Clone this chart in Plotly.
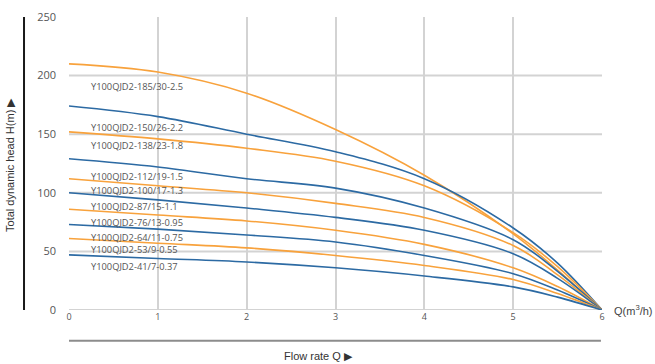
import plotly.graph_objects as go

# ---- data ----
flow = [0, 1, 2, 3, 4, 5, 5.5, 6]
models = [
    "Y100QJD2-185/30-2.5", "Y100QJD2-150/26-2.2", "Y100QJD2-138/23-1.8",
    "Y100QJD2-112/19-1.5", "Y100QJD2-100/17-1.3", "Y100QJD2-87/15-1.1",
    "Y100QJD2-76/13-0.95", "Y100QJD2-64/11-0.75", "Y100QJD2-53/9-0.55",
    "Y100QJD2-41/7-0.37",
]
h_185 = [210, 203, 185, 154, 115, 65, 34, 0]
h_150 = [174, 165, 150, 135, 112, 70, 40, 0]
h_138 = [152, 146, 138, 127, 106, 66, 37, 0]
h_112 = [129, 122, 112, 104, 87, 60, 33, 0]
h_100 = [112, 106, 100, 91, 79, 55, 30, 0]
h_87 = [100, 94, 87, 79, 68, 48, 27, 0]
h_76 = [86, 81, 76, 68, 56, 36, 20, 0]
h_64 = [73, 69, 64, 58, 46.5, 31, 17, 0]
h_53 = [61, 57, 53, 46.5, 38, 26, 14, 0]
h_41 = [47, 44, 41, 36, 29, 19.7, 11, 0]
heads = [h_185, h_150, h_138, h_112, h_100, h_87, h_76, h_64, h_53, h_41]

x_ticks = [0, 1, 2, 3, 4, 5, 6]
y_ticks = [0, 50, 100, 150, 200, 250]
y_grid = [0, 50, 100, 150, 200]

# ---- styling / layout ----
ORANGE = "#F8A23C"
BLUE = "#2C6AA3"
colors = [ORANGE if i % 2 == 0 else BLUE for i in range(len(models))]
label_y = [191, 156, 140.5, 113.5, 102, 88.5, 75, 61.5, 51.2, 37]
label_x = 0.225

fig = go.Figure()
for name, h, c in zip(models, heads, colors):
    fig.add_trace(go.Scatter(
        x=flow, y=h, mode="lines", name=name,
        line=dict(color=c, width=1.6, shape="spline", smoothing=1.0),
        showlegend=False, hoverinfo="x+y+name",
    ))

grid_col = "#D3D3D3"
shapes = []
for gy in y_grid:
    shapes.append(dict(type="line", xref="paper", yref="y", x0=0, x1=1, y0=gy, y1=gy,
                       line=dict(color=grid_col, width=2), layer="below"))
# left black axis bar and bottom gray bar
shapes.append(dict(type="line", xref="paper", yref="paper", x0=-0.0844, x1=-0.0844,
                   y0=0, y1=1.0, line=dict(color="#1a1a1a", width=2)))
shapes.append(dict(type="line", xref="paper", yref="paper", x0=0, x1=0.998,
                   y0=-0.105, y1=-0.105, line=dict(color="#8C8C8C", width=2)))

annotations = []
for name, ly in zip(models, label_y):
    annotations.append(dict(x=label_x, y=ly, xref="x", yref="y", text=name,
                            showarrow=False, xanchor="left", yanchor="middle",
                            font=dict(family="Open Sans", size=9.3, color="#555555")))
annotations.append(dict(x=-0.1107, y=0.495, xref="paper", yref="paper",
                        text="Total dynamic head H(m) ▶", textangle=-90,
                        showarrow=False, xanchor="center", yanchor="middle",
                        font=dict(family="Liberation Sans", size=11, color="#333333")))
annotations.append(dict(x=0.469, y=-0.156, xref="paper", yref="paper",
                        text="Flow rate Q ▶", showarrow=False,
                        xanchor="center", yanchor="middle",
                        font=dict(family="Liberation Sans", size=11, color="#333333")))
annotations.append(dict(x=1.018, y=0.0, xref="paper", yref="paper",
                        text="Q(m<sup>3</sup>/h)", showarrow=False,
                        xanchor="left", yanchor="middle",
                        font=dict(family="Liberation Sans", size=11, color="#444444")))

fig.update_layout(
    width=655, height=364,
    margin=dict(l=69, r=53, t=9, b=54),
    paper_bgcolor="white", plot_bgcolor="white",
    shapes=shapes, annotations=annotations,
    xaxis=dict(range=[0, 6], tickvals=x_ticks, showgrid=True, gridcolor=grid_col,
               gridwidth=2, zeroline=False, showline=False, ticks="",
               tickfont=dict(family="Open Sans", size=9, color="#555555")),
    yaxis=dict(range=[0, 250], tickvals=y_ticks, showgrid=False, zeroline=False,
               showline=False, ticks="", ticklabelstandoff=12,
               tickfont=dict(family="Open Sans", size=11, color="#555555")),
)

# remove the default page margin so the figure sits at the top-left corner
fig.write_html("out.html", config={"displayModeBar": False},
               post_script="document.body.style.margin='0';")
